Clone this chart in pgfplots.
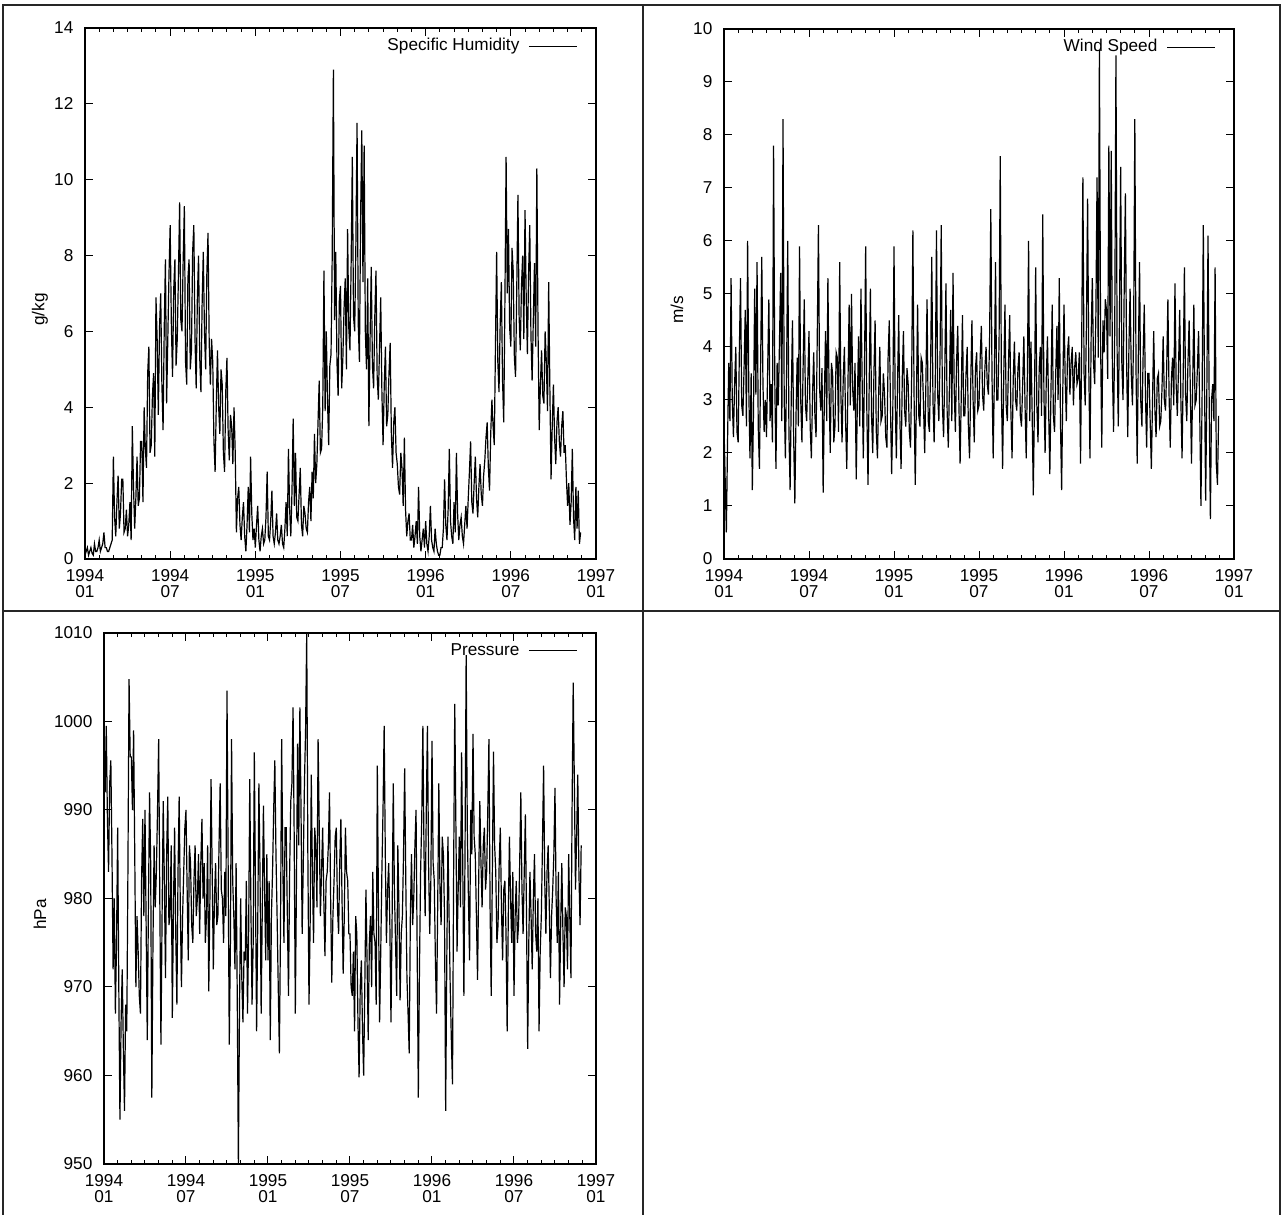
\documentclass[border=0pt]{standalone}
\usepackage{pgfplots}
\pgfplotsset{compat=1.18}
\usepackage{pgfplotstable}
\usepackage{fontspec}
\setmainfont{Liberation Sans}

% one value every 1/12 month, starting 1994-01 (one row of the file = one month)
\pgfplotstableread[row sep=\\,header=false]{
0.1\\0.2\\0.3\\0.1\\0.2\\0.3\\0.15\\0.1\\0.4\\0.2\\0.2\\0.3\\
0.5\\0.2\\0.3\\0.4\\0.7\\0.3\\0.3\\0.2\\0.2\\0.3\\0.4\\0.5\\
2.7\\1.1\\0.6\\1.5\\2.2\\0.8\\1.2\\2.1\\2.1\\0.7\\0.8\\1.3\\
0.6\\0.9\\1.5\\0.5\\3.5\\1.9\\0.8\\1.6\\2.7\\1.4\\1.6\\3.1\\
3.1\\1.5\\4.0\\2.9\\2.4\\4.9\\5.6\\2.8\\3.0\\4.3\\4.9\\2.7\\
6.9\\5.8\\3.8\\6.1\\7.0\\4.6\\3.4\\6.1\\7.9\\4.1\\5.8\\7.5\\
8.8\\6.2\\4.8\\7.1\\7.9\\5.1\\5.8\\7.5\\9.4\\6.3\\6.0\\7.9\\
9.3\\5.2\\4.6\\7.4\\7.9\\5.0\\5.5\\8.1\\8.8\\5.8\\4.5\\6.9\\
8.0\\5.3\\4.4\\6.7\\8.1\\6.0\\5.0\\7.5\\8.6\\5.7\\4.6\\5.8\\
5.2\\3.1\\2.3\\4.1\\5.5\\4.0\\3.3\\5.0\\4.6\\2.8\\2.3\\4.4\\
5.3\\3.4\\2.6\\3.8\\3.5\\2.5\\4.0\\2.8\\0.7\\1.6\\1.9\\0.9\\
0.5\\1.1\\1.5\\0.6\\0.2\\0.9\\1.9\\0.7\\2.7\\1.2\\0.5\\0.8\\
0.3\\0.9\\1.4\\0.5\\0.2\\0.6\\0.8\\0.4\\0.5\\1.1\\2.3\\0.6\\
0.5\\1.0\\1.8\\0.6\\0.4\\0.7\\1.2\\0.5\\0.4\\0.6\\0.9\\0.4\\
0.3\\0.8\\1.5\\0.6\\2.9\\1.3\\0.6\\1.8\\3.7\\1.4\\2.8\\1.1\\
1.0\\1.7\\2.4\\0.9\\0.6\\1.4\\1.2\\0.8\\0.7\\1.5\\1.9\\1.0\\
2.3\\1.6\\3.3\\2.0\\2.5\\3.6\\4.7\\2.8\\2.9\\4.0\\7.6\\3.9\\
6.0\\4.2\\3.0\\5.1\\5.4\\8.0\\12.9\\6.3\\8.1\\5.2\\4.3\\6.8\\
7.2\\4.5\\5.3\\6.6\\7.4\\5.0\\8.7\\6.1\\5.5\\7.8\\10.6\\6.4\\
6.0\\8.3\\11.5\\6.2\\5.2\\9.0\\11.3\\7.3\\10.9\\6.0\\5.0\\7.4\\
3.5\\5.8\\7.7\\5.1\\4.5\\6.4\\7.6\\4.8\\4.2\\5.6\\6.9\\4.4\\
3.0\\4.6\\5.6\\3.5\\3.8\\4.9\\5.7\\3.3\\2.4\\3.6\\4.0\\2.8\\
2.5\\1.9\\1.7\\2.8\\2.4\\1.4\\3.2\\1.3\\0.6\\1.0\\1.2\\0.5\\
0.5\\0.9\\0.3\\0.6\\1.0\\0.4\\1.9\\0.6\\0.2\\0.5\\0.8\\0.3\\
1.0\\0.4\\0.2\\0.6\\1.4\\0.5\\0.3\\0.2\\0.8\\0.4\\0.2\\0.1\\
0.1\\0.3\\0.3\\0.8\\2.1\\0.9\\0.5\\1.3\\2.9\\1.0\\0.6\\0.4\\
1.5\\0.7\\2.8\\1.2\\0.5\\0.9\\1.1\\0.6\\0.4\\0.9\\1.4\\0.8\\
1.6\\2.3\\3.1\\1.5\\1.2\\2.0\\2.7\\1.6\\1.1\\1.9\\2.5\\1.7\\
1.4\\2.2\\2.6\\3.2\\3.6\\2.4\\1.8\\3.3\\4.2\\3.5\\3.0\\5.6\\
8.1\\5.2\\4.4\\6.2\\7.3\\4.7\\3.6\\6.8\\10.6\\7.0\\8.7\\6.1\\
5.6\\8.2\\7.6\\5.3\\4.8\\7.1\\9.6\\6.4\\5.5\\7.2\\8.0\\5.8\\
9.2\\6.9\\5.4\\7.5\\8.8\\5.9\\4.7\\6.3\\7.8\\5.6\\10.3\\6.0\\
3.4\\4.6\\5.5\\4.3\\4.1\\6.0\\5.2\\3.9\\7.3\\4.5\\2.1\\3.5\\
4.6\\3.2\\2.5\\3.6\\4.0\\3.1\\2.7\\3.5\\3.9\\2.8\\3.0\\2.1\\
1.4\\2.0\\0.9\\1.5\\2.9\\1.1\\0.5\\1.9\\0.8\\1.8\\0.4\\0.7\\
}\humid

\pgfplotstableread[row sep=\\,header=false]{
2.5\\1.5\\0.5\\2.2\\3.7\\2.6\\5.3\\3.0\\2.3\\3.3\\4.0\\2.4\\
2.2\\3.9\\5.3\\2.9\\2.7\\3.6\\4.7\\2.5\\6.0\\3.2\\1.9\\3.5\\
1.3\\2.8\\5.1\\3.1\\5.6\\2.5\\1.7\\3.6\\5.7\\3.3\\2.4\\3.0\\
2.3\\3.6\\4.9\\2.6\\3.3\\2.2\\7.8\\3.4\\1.7\\3.7\\2.9\\4.1\\
5.4\\2.6\\8.3\\3.0\\1.9\\3.5\\6.0\\2.4\\1.3\\3.1\\4.5\\2.3\\
1.05\\2.7\\3.8\\2.5\\5.9\\3.0\\2.2\\3.6\\4.9\\2.9\\2.6\\3.4\\
4.3\\2.5\\1.9\\3.1\\3.9\\2.7\\2.3\\4.2\\6.3\\3.2\\2.8\\3.6\\
1.25\\3.0\\4.3\\2.6\\5.3\\3.2\\2.0\\3.7\\3.5\\2.2\\2.5\\3.9\\
3.8\\2.4\\5.6\\3.1\\2.2\\3.4\\4.0\\2.6\\1.7\\3.3\\4.8\\2.9\\
5.0\\3.2\\2.8\\3.7\\1.5\\3.0\\4.2\\2.5\\5.1\\3.4\\1.9\\3.6\\
5.9\\2.8\\1.4\\3.3\\5.1\\2.7\\2.0\\3.5\\4.5\\2.4\\1.9\\3.1\\
4.0\\2.6\\2.7\\3.5\\3.1\\2.3\\2.1\\3.8\\4.5\\2.9\\1.6\\2.8\\
5.9\\3.0\\1.9\\3.3\\4.6\\2.6\\1.7\\3.4\\4.3\\2.8\\2.5\\3.6\\
3.3\\2.4\\2.1\\3.5\\6.2\\3.1\\1.4\\3.0\\4.8\\2.7\\2.5\\3.8\\
3.7\\2.9\\2.0\\3.3\\4.9\\2.6\\2.4\\3.6\\5.7\\3.0\\2.2\\3.4\\
6.2\\3.1\\2.6\\3.8\\6.3\\2.9\\2.3\\3.5\\5.2\\2.8\\2.1\\3.3\\
4.7\\2.6\\5.4\\3.2\\2.4\\3.7\\4.4\\2.9\\1.8\\3.1\\4.6\\2.7\\
2.7\\3.5\\4.0\\2.5\\1.9\\3.3\\4.5\\3.0\\2.2\\3.6\\3.9\\2.8\\
2.9\\3.8\\4.4\\3.1\\2.8\\3.6\\4.0\\3.3\\3.1\\4.2\\6.6\\3.5\\
1.9\\3.4\\5.6\\3.0\\3.0\\4.1\\7.6\\3.2\\1.7\\3.5\\4.8\\2.9\\
2.6\\3.7\\4.6\\2.8\\1.9\\3.4\\4.1\\3.0\\2.8\\3.6\\3.9\\2.7\\
2.5\\3.3\\4.2\\2.9\\1.9\\3.5\\6.0\\2.6\\4.1\\2.8\\1.2\\3.0\\
5.5\\2.9\\2.2\\3.6\\4.0\\2.7\\6.5\\3.1\\2.0\\3.4\\4.2\\2.8\\
1.6\\3.2\\4.8\\2.7\\2.4\\3.5\\4.4\\3.0\\5.3\\2.6\\1.3\\3.2\\
4.8\\3.4\\2.6\\3.9\\4.2\\3.1\\3.7\\4.0\\2.9\\3.6\\3.9\\3.3\\
3.4\\3.9\\1.8\\4.1\\7.2\\3.5\\2.9\\4.4\\6.8\\3.6\\1.9\\4.2\\
5.3\\3.7\\3.3\\4.6\\7.2\\3.8\\9.6\\4.1\\2.1\\4.5\\3.9\\4.9\\
4.7\\3.4\\7.8\\4.2\\7.7\\3.6\\2.4\\4.4\\9.5\\3.9\\2.5\\4.6\\
7.4\\3.7\\3.0\\5.1\\6.9\\3.8\\2.3\\4.0\\5.1\\3.5\\2.9\\4.3\\
8.3\\3.6\\1.8\\3.9\\5.6\\3.0\\2.5\\3.8\\4.8\\3.1\\2.1\\3.5\\
3.5\\2.6\\1.7\\3.0\\4.3\\2.8\\2.3\\3.4\\3.5\\2.5\\2.6\\3.2\\
4.2\\3.0\\2.8\\3.6\\4.9\\3.1\\2.1\\3.4\\3.8\\2.9\\5.2\\3.3\\
2.7\\3.6\\4.7\\3.0\\1.9\\3.5\\5.5\\3.1\\2.6\\3.7\\4.5\\3.2\\
1.8\\3.3\\4.8\\2.9\\3.0\\3.6\\4.3\\2.7\\1.0\\3.1\\6.3\\3.4\\
1.1\\3.2\\6.1\\2.9\\0.75\\3.0\\3.3\\2.6\\5.5\\1.8\\1.4\\2.7\\
}\wind

\pgfplotstableread[row sep=\\,header=false]{
997\\992\\999.5\\989\\983\\993\\995.6\\985\\972\\980\\967\\975\\
988\\970\\955\\966\\972\\963\\956\\968\\965\\983\\1004.8\\996\\
996\\990\\999\\985\\970\\978\\974\\969\\967\\982\\989\\978\\
990\\977\\964\\979\\992\\984\\957.5\\975\\986\\979\\983\\990\\
998\\980\\963.5\\978\\991\\982\\971\\985\\991.5\\977\\978\\986\\
966.5\\979\\988\\976\\968\\983\\991.5\\979\\970\\978\\983\\988\\
990\\981\\973\\986\\984\\977\\975\\982\\986\\978\\980\\985\\
976\\984\\989\\980\\984\\975\\978\\986\\969.5\\980\\993.5\\983\\
972\\980\\984\\977\\978\\986\\993\\981\\980\\975\\983\\978\\
1003.5\\984\\963.5\\975\\998\\982\\978\\972\\984\\969\\950\\968\\
980\\971\\966\\974\\973\\982\\967\\976\\993.5\\979\\968\\975\\
996.5\\981\\965\\977\\993\\983\\967\\979\\990.5\\981\\973\\985\\
973\\982\\964\\978\\983\\990\\995.6\\985\\978\\970\\962.5\\977\\
998\\984\\975\\988\\988\\978\\969\\983\\991\\993\\1001.6\\987\\
967\\982\\997.5\\986\\1001.6\\990\\976\\984\\993\\999\\1010\\985\\
968\\977\\994\\983\\975\\988\\986\\979\\998\\988\\978\\983\\
988\\980\\973.5\\982\\983\\986\\992\\980\\970.5\\978\\982\\987\\
988\\979\\976\\984\\989\\980\\971.5\\978\\988\\983\\982\\976\\
976\\970\\969\\974\\965\\978\\976\\966\\959.8\\970\\973\\965\\
960\\970\\981\\973\\964\\975\\978\\970\\983\\976\\975\\968\\
995\\979\\966\\974\\983\\990\\999.5\\985\\975\\981\\984\\977\\
966\\978\\993\\981\\975\\969\\986\\979\\968.5\\976\\978\\985\\
994.7\\982\\971\\967\\962.5\\978\\985\\977\\980\\986\\990\\974\\
957.5\\972\\983\\989\\999.5\\985\\978\\990\\999.5\\984\\976\\982\\
997.8\\984\\982\\973\\967\\979\\993\\981\\977\\987\\985\\978\\
956\\973\\987\\978\\970\\964\\959\\983\\1002\\988\\974\\981\\
987\\979\\996.5\\984\\969\\985\\1007.5\\988\\980\\973\\990\\985\\
998.6\\987\\985\\978\\970.8\\982\\991\\984\\979\\986\\988\\981\\
983\\990\\998\\979\\969\\983\\996.6\\986\\983\\975\\977\\984\\
988\\979\\973\\981\\982\\976\\965\\978\\987\\980\\975\\983\\
969\\978\\982\\975\\977\\984\\992\\981\\976\\983\\989.5\\978\\
963\\975\\983\\978\\972\\980\\985\\976\\974\\980\\965\\974\\
978\\986\\995\\982\\976\\983\\986\\979\\971\\978\\981\\985\\
992.5\\980\\975\\983\\968\\977\\984\\976\\970\\979\\978\\972\\
985\\978\\971\\990\\1004.4\\993\\981\\987\\994\\983\\977\\986\\
}\press

\pgfplotsset{
  panel/.style={
    scale only axis,
    xmin=0, xmax=36,
    xtick={0,6,...,36},
    xticklabels={{1994\\01},{1994\\07},{1995\\01},{1995\\07},{1996\\01},{1996\\07},{1997\\01}},
    xticklabel style={align=center, yshift=-1.8pt},
    minor x tick num=5,
    tick align=inside,
    major tick length=4pt,
    minor tick length=2pt,
    axis line style={line width=0.6pt},
    every tick/.style={black, line width=0.5pt},
    yticklabel style={/pgf/number format/assume math mode=true,
      /pgf/number format/1000 sep={}, xshift=-2.3pt},
    legend plot pos=right,
    legend style={draw=none, fill=none, at={(axis description cs:1,1)},
      anchor=north east, xshift=-9pt, yshift=-3pt, inner sep=0pt},
    legend image code/.code={\path (3pt,0pt); \draw[##1] (5.5pt,0pt) -- (29.5pt,0pt);},
  },
  series/.style={black, line width=0.6pt},
}

\begin{document}
\begin{tikzpicture}[font=\fontsize{8.6}{8}\selectfont]
\useasboundingbox (0,0) rectangle (641pt,607.5pt);

% table frame
\draw[line width=1.3pt, black!85] (1.5pt,0) -- (1.5pt,605pt) -- (640pt,605pt) -- (640pt,0);
\draw[line width=1.3pt, black!85] (321.5pt,0) -- (321.5pt,605pt);
\draw[line width=1.3pt, black!85] (1.5pt,302pt) -- (640pt,302pt);

\begin{axis}[panel, at={(42.5pt,328pt)}, anchor=south west,
  width=255.5pt, height=265.5pt,
  ymin=0, ymax=14, ytick={0,2,...,14},
  ylabel={g/kg}, ylabel style={at={(axis description cs:-0.088,0.47)}, anchor=center}]
\addplot[series] table[x expr=\coordindex/12, y index=0] {\humid};
\addlegendentry{Specific Humidity}
\end{axis}

\begin{axis}[panel, at={(362pt,328pt)}, anchor=south west,
  width=255pt, height=265pt,
  ymin=0, ymax=10, ytick={0,1,...,10},
  ylabel={m/s}, ylabel style={at={(axis description cs:-0.092,0.47)}, anchor=center}]
\addplot[series] table[x expr=\coordindex/12, y index=0] {\wind};
\addlegendentry{Wind Speed}
\end{axis}

\begin{axis}[panel, at={(52pt,25.5pt)}, anchor=south west,
  width=246pt, height=265.5pt,
  ymin=950, ymax=1010, ytick={950,960,...,1010},
  ylabel={hPa}, ylabel style={at={(axis description cs:-0.13,0.47)}, anchor=center}]
\addplot[series] table[x expr=\coordindex/12, y index=0] {\press};
\addlegendentry{Pressure}
\end{axis}
\end{tikzpicture}
\end{document}
